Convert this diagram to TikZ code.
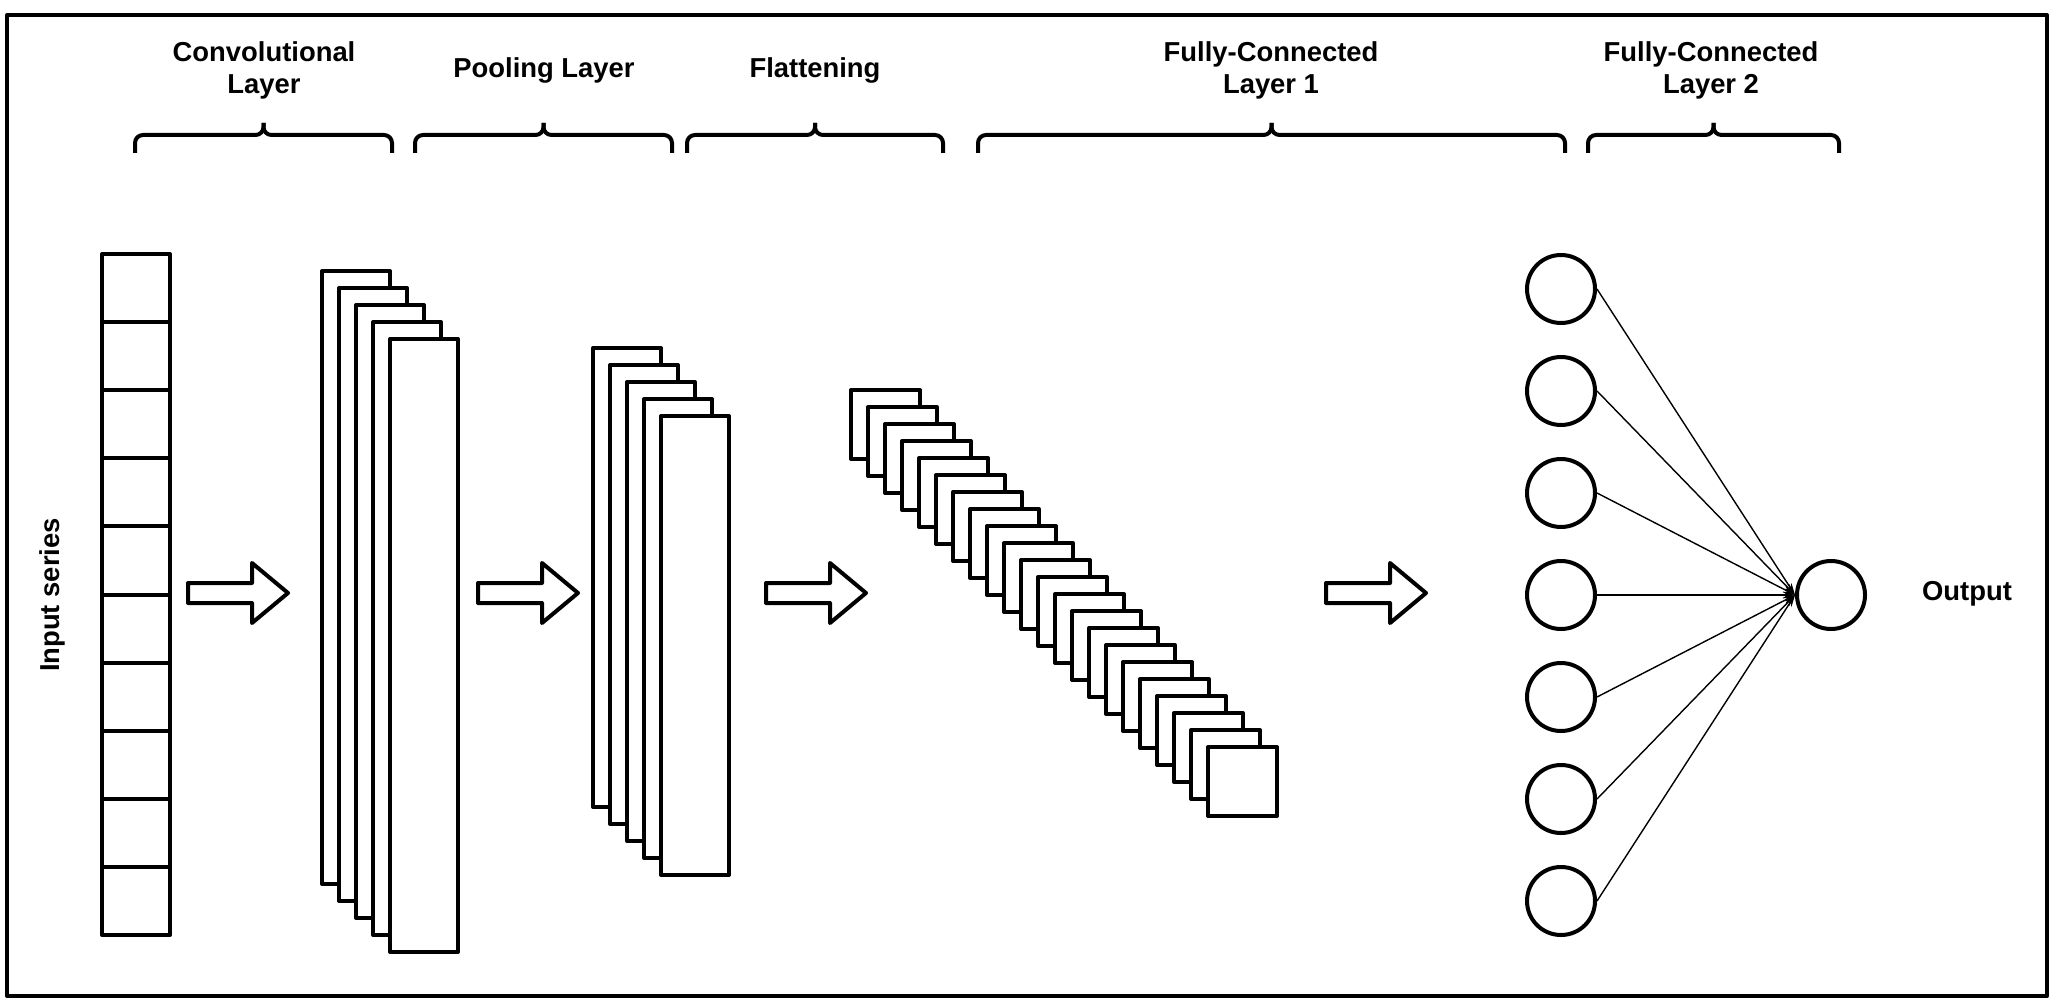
\documentclass[tikz,border=0pt]{standalone}
\usepackage{fontspec}
\setmainfont{Liberation Sans}
\usetikzlibrary{arrows.meta}
\begin{document}
\begin{tikzpicture}[x=0.5pt, y=-0.5pt, line join=round, >={Stealth[length=6pt,width=3.5pt]},
  every node/.style={font=\bfseries\fontsize{13.7}{16}\selectfont},
  box/.style={draw, line width=2pt, fill=white},
  neuron/.style={circle, draw, line width=2pt, minimum size=34pt, inner sep=0pt},
  layerbrace/.style={line width=2pt, rounded corners=4pt},
  layertitle/.style={align=center}]
\useasboundingbox (0,0) rectangle (2054,1005);
\draw[line width=2pt] (7,15) rectangle (2047,996);
% titles and braces
\node[layertitle] (conv) at (264,70) {Convolutional\\Layer};
\node[layertitle] (pool) at (544,70) {Pooling Layer};
\node[layertitle] (flat) at (815,70) {Flattening};
\node[layertitle] (fc1) at (1271,70) {Fully-Connected\\Layer 1};
\node[layertitle] (fc2) at (1711,70) {Fully-Connected\\Layer 2};
\foreach \a/\b in {135/392, 415/672, 687/943, 978/1565, 1588/1839}{
\pgfmathsetmacro\m{(\a+\b)/2}
\draw[layerbrace] (\a,153) |- (\m,135) -- (\m,123);
\draw[layerbrace] (\b,153) |- (\m,135) -- (\m,123);
}
% input series
\node[rotate=90] (inlabel) at (52,595) {Input series};
\foreach \i in {0,...,9}
\draw[box] (102,{254+68.1*\i}) rectangle ++(68,68.1);
% convolution and pooling maps
\foreach \i in {0,...,4}
\draw[box] ({322+17*\i},{271+17*\i}) rectangle ++(68,613);
\foreach \i in {0,...,4}
\draw[box] ({593+17*\i},{348+17*\i}) rectangle ++(68,459);
% flattened vector
\foreach \i in {0,...,21}
\draw[box] ({851+17*\i},{390+17*\i}) rectangle ++(69,69);
% block arrows
\foreach \x in {188,478,766,1326}
\draw[line width=2pt, fill=white] (\x,583) -- ++(64,0) -- ++(0,-20) -- ++(36,30)
  -- ++(-36,30) -- ++(0,-20) -- ++(-64,0) -- cycle;
% dense layers
\foreach \i in {1,...,7}
\node[neuron] (h\i) at (1561,{289+102*(\i-1)}) {};
\node[neuron] (out) at (1831,595) {};
\node (outlabel) at (1967,594) {Output};
\foreach \i in {1,...,7}
\draw[->, line width=0.7pt] (h\i.east) -- (out.west);
\end{tikzpicture}
\end{document}
